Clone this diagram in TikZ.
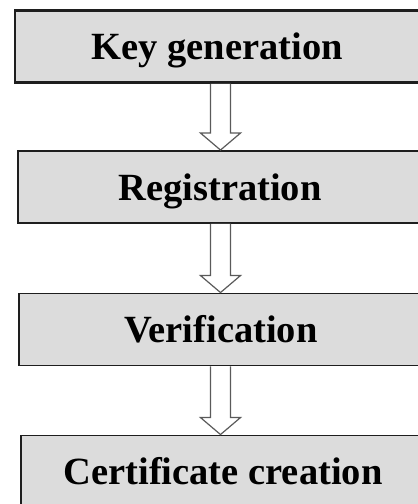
\documentclass[tikz,border=0pt]{standalone}
\usepackage{fontspec}
\setmainfont{Liberation Serif}
\usetikzlibrary{calc}
\definecolor{boxfill}{HTML}{DCDCDC}
\definecolor{boxline}{HTML}{1E1E1E}
\definecolor{arrline}{HTML}{5A5A5A}
\tikzset{
  stepbox/.style={draw=boxline, line width=1.9pt, fill=boxfill, inner sep=0pt,
    minimum width=404pt, minimum height=72pt, text height=26pt, text depth=0pt,
    font=\fontsize{38.5}{40}\selectfont\bfseries},
  blockarrow/.style={draw=arrline, line width=1.2pt, fill=white, line join=miter}
}
\begin{document}
\begin{tikzpicture}[x=1pt, y=-1pt]
\useasboundingbox (0,0) rectangle (418,504);
\clip (0,0) rectangle (418,504);
\node[stepbox, line width=2.5pt] (b1) at (217,46.5) {Key generation};
\node[stepbox] (b2) at (220,187) {Registration};
\node[stepbox] (b3) at (221,329.5) {Verification};
\node[stepbox] (b4) at (223,471.5) {Certificate creation};
\coordinate (ax) at (220.5,0);
\foreach \s/\e in {b1/b2, b2/b3, b3/b4}{
  \draw[blockarrow] let \p1=(\s.south -| ax), \p2=(\e.north -| ax) in
    (\x1-10pt,\y1) -- (\x1-10pt,\y2+17pt) -- (\x1-20pt,\y2+17pt) -- (\x1,\y2)
    -- (\x1+20pt,\y2+17pt) -- (\x1+10pt,\y2+17pt) -- (\x1+10pt,\y1);
}
\end{tikzpicture}
\end{document}
